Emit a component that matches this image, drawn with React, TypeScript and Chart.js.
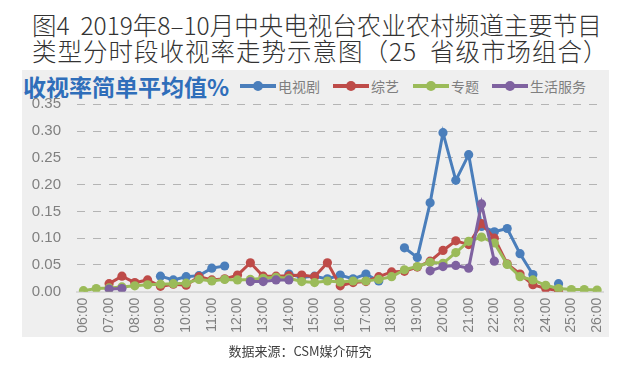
import React, { useEffect, useRef } from "react";
import { Chart, registerables } from "chart.js";

Chart.register(...registerables);

const timeLabels = [
  "06:00", "06:30", "07:00", "07:30", "08:00", "08:30", "09:00", "09:30", "10:00", "10:30",
  "11:00", "11:30", "12:00", "12:30", "13:00", "13:30", "14:00", "14:30", "15:00", "15:30",
  "16:00", "16:30", "17:00", "17:30", "18:00", "18:30", "19:00", "19:30", "20:00", "20:30",
  "21:00", "21:30", "22:00", "22:30", "23:00", "23:30", "24:00", "24:30", "25:00", "25:30",
  "26:00",
];

const seriesNames = ["电视剧", "综艺", "专题", "生活服务"];
const seriesColors = ["#4A7EBB", "#BE4B48", "#9BBB59", "#7F62A0"];

const tvDrama = [
  null, null, null, null, null, null, 0.029, 0.022, 0.028, 0.030,
  0.044, 0.048, null, null, null, null, 0.033, 0.027, 0.029, 0.024,
  0.031, 0.024, 0.033, 0.020, null, 0.082, 0.064, 0.166, 0.297, 0.208,
  0.256, 0.122, 0.112, 0.118, 0.071, 0.032, null, 0.015, null, null,
  null,
];
const variety = [
  null, null, 0.015, 0.029, 0.017, 0.022, 0.010, 0.014, 0.012, 0.028,
  0.022, 0.024, 0.031, 0.054, 0.029, 0.029, 0.030, 0.031, 0.028, 0.054,
  0.011, 0.017, 0.019, 0.028, 0.037, 0.038, 0.046, 0.057, 0.077, 0.095,
  0.088, 0.127, 0.100, 0.052, 0.033, 0.013, 0.006, 0.002, null, null,
  null,
];
const special = [
  0.002, 0.006, 0.007, 0.009, 0.011, 0.013, 0.014, 0.015, 0.016, 0.023,
  0.020, 0.023, 0.022, 0.023, 0.025, 0.027, 0.025, 0.019, 0.017, 0.020,
  0.018, 0.020, 0.020, 0.023, 0.028, 0.041, 0.047, 0.055, 0.053, 0.073,
  0.094, 0.102, 0.091, 0.051, 0.028, 0.022, 0.012, 0.006, 0.004, 0.004,
  0.003,
];
const lifeService = [
  null, null, 0.005, 0.006, null, null, null, null, null, null,
  null, null, null, 0.019, 0.019, 0.022, 0.022, null, null, null,
  null, null, null, null, null, null, null, 0.039, 0.047, 0.049,
  0.044, 0.164, 0.057, null, null, null, null, null, null, null,
  null,
];

const yTicks = [0, 0.05, 0.1, 0.15, 0.2, 0.25, 0.3, 0.35];

const CJK = '"Noto Sans CJK SC", "Noto Sans", sans-serif';
const LATIN = '"Liberation Sans", Arial, sans-serif';

export default function App() {
  const ref = useRef<HTMLCanvasElement | null>(null);

  useEffect(() => {
    if (!ref.current) return;
    const all = [tvDrama, variety, special, lifeService];
    const chart = new Chart(ref.current, {
      type: "line",
      data: {
        labels: timeLabels,
        datasets: all.map((d, i) => ({
          label: seriesNames[i],
          data: d,
          borderColor: seriesColors[i],
          backgroundColor: seriesColors[i],
          pointBackgroundColor: seriesColors[i],
          pointBorderColor: seriesColors[i],
          borderWidth: 3,
          pointRadius: 4.6,
          pointBorderWidth: 0,
          tension: 0,
          spanGaps: false,
          order: 3 - i,
        })),
      },
      options: {
        animation: false,
        responsive: false,
        devicePixelRatio: 1,
        layout: { padding: { left: 30, right: 32.5, top: 104.3, bottom: 40.3 } },
        plugins: { legend: { display: false }, title: { display: false }, tooltip: { enabled: false } },
        scales: {
          x: {
            type: "category",
            offset: true,
            grid: { display: false, drawTicks: false },
            border: { display: true, color: "#D9D9D9", width: 2 },
            ticks: {
              autoSkip: false,
              maxRotation: 90,
              minRotation: 90,
              padding: 6,
              color: "#808080",
              font: { family: LATIN, size: 14 },
              callback: (_v: any, i: number) => (i % 2 === 0 ? timeLabels[i] : ""),
            },
            afterFit: (s: any) => { s.height = 46; },
          },
          y: {
            min: 0,
            max: 0.35,
            afterBuildTicks: (s: any) => { s.ticks = yTicks.map((v) => ({ value: v })); },
            grid: {
              drawTicks: false,
              color: (c: any) => (c.tick && c.tick.value === 0 ? "rgba(0,0,0,0)" : "#B4B4B4"),
              lineWidth: 1,
            },
            border: { display: false, dash: [8, 8] },
            ticks: {
              padding: 16,
              color: "#808080",
              font: { family: LATIN, size: 15 },
              callback: (v: any) => Number(v).toFixed(2),
            },
            afterFit: (s: any) => { s.width = 47; },
          },
        },
      },
    });
    return () => chart.destroy();
  }, []);

  const legendItem = (i: number, left: number) => (
    <div key={i} style={{ position: "absolute", left, top: 77, height: 18, display: "flex", alignItems: "center" }}>
      <div style={{ position: "relative", width: 36, height: 18 }}>
        <div style={{ position: "absolute", left: 0, top: 7, width: 36, height: 4, background: seriesColors[i] }} />
        <div style={{ position: "absolute", left: 13, top: 4, width: 10, height: 10, borderRadius: 5, background: seriesColors[i] }} />
      </div>
      <span style={{ marginLeft: 2, fontFamily: CJK, fontSize: 14, color: "#7F7F7F", lineHeight: "18px" }}>{seriesNames[i]}</span>
    </div>
  );

  return (
    <div style={{ position: "fixed", left: 0, top: 0, width: 636, height: 378, background: "#fff", overflow: "hidden" }}>
      <div style={{ position: "absolute", left: 32, top: 12, fontFamily: CJK, fontWeight: 300, fontSize: 24.5, lineHeight: "26px", color: "#333", whiteSpace: "pre" }}>
        <div>{"图4  2019年8–10月中央电视台农业农村频道主要节目"}</div>
        <div style={{ letterSpacing: 1 }}>{"类型分时段收视率走势示意图（25  省级市场组合）"}</div>
      </div>
      <div style={{ position: "absolute", left: 22, top: 70, width: 587, height: 267, background: "#EFEFEF" }} />
      <div style={{ position: "absolute", left: 23, top: 70, fontFamily: CJK, fontWeight: 700, fontSize: 23, lineHeight: "32px", color: "#2F6EBA", whiteSpace: "nowrap" }}>
        收视率简单平均值%
      </div>
      {legendItem(0, 240)}
      {legendItem(1, 333)}
      {legendItem(2, 413)}
      {legendItem(3, 492)}
      <canvas ref={ref} width={636} height={378} style={{ position: "absolute", left: 0, top: 0, width: 636, height: 378 }} />
      <div style={{ position: "absolute", left: 0, width: 600, top: 341, textAlign: "center", fontFamily: CJK, fontSize: 13, color: "#404040" }}>
        数据来源：CSM媒介研究
      </div>
    </div>
  );
}
